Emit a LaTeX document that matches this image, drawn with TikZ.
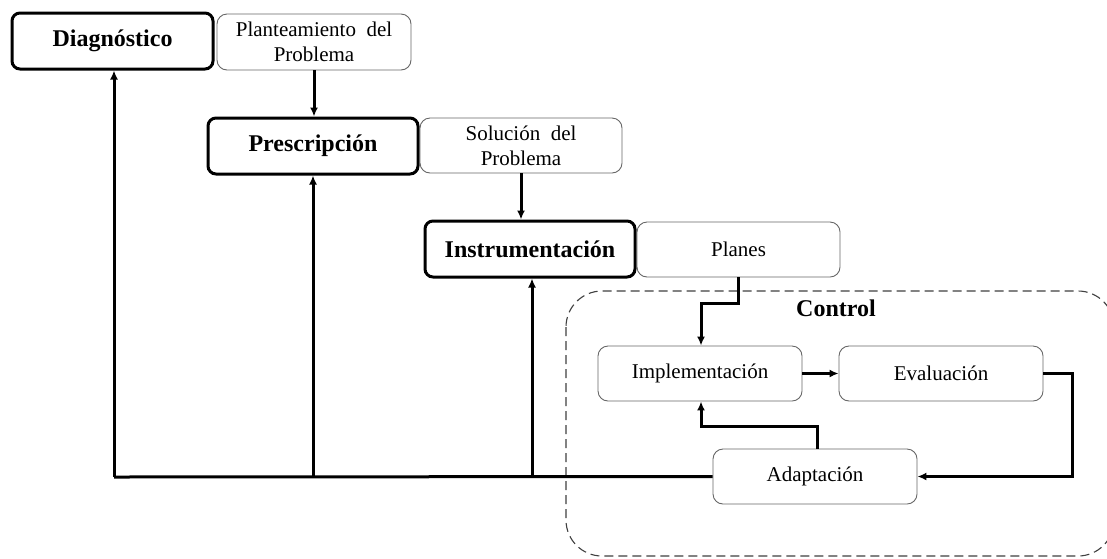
\documentclass[tikz,border=0pt]{standalone}
\usepackage{fontspec}
\setmainfont{Liberation Serif}
\usetikzlibrary{arrows.meta}
\begin{document}
\begin{tikzpicture}[x=1pt,y=-1pt,
  stage/.style={draw=black,line width=3pt,rounded corners=8pt,fill=white,
    inner sep=0pt,font=\fontsize{24}{26}\selectfont\bfseries},
  item/.style={draw=black!60,line width=0.9pt,rounded corners=10pt,fill=white,
    inner sep=0pt,align=center,font=\fontsize{21}{25}\selectfont},
  flow/.style={line width=3pt,-{Latex[length=9pt,width=8pt]}},
  link/.style={line width=3pt},
  region/.style={draw=black!75,line width=1.1pt,dash pattern=on 9pt off 5pt,rounded corners=36pt}]
\useasboundingbox (0,0) rectangle (1107,558);
\fill[white] (0,0) rectangle (1107,558);

% dashed control region
\draw[region] (566,291) rectangle (1114,556);
\node[font=\fontsize{24}{26}\selectfont\bfseries] (ctl) at (836,308) {Control};

% points where the feedback line meets each stage
\coordinate (base) at (114,477);
\coordinate (bp) at (313,477);
\coordinate (bi) at (532,477);

% stages and their outputs
\node[stage,minimum width=201pt,minimum height=56pt] (diag) at (112.5,41) {Diagnóstico};
\node[item,minimum width=194pt,minimum height=56pt] (plant) at (314,42) {Planteamiento\ \ del\\Problema};
\node[stage,minimum width=210pt,minimum height=56pt] (presc) at (313,146) {Prescripción};
\node[item,minimum width=202pt,minimum height=55pt] (sol) at (521,145.5) {Solución\ \ del\\Problema};
\node[stage,minimum width=210pt,minimum height=56pt] (instr) at (530,249) {Instrumentación};
\node[item,minimum width=203pt,minimum height=55pt] (plan) at (738.5,249.5) {Planes};

% control loop
\node[item,minimum width=204pt,minimum height=55pt] (impl) at (700,373.5) {Implementación};
\node[item,minimum width=204pt,minimum height=55pt] (eval) at (941,373.5) {Evaluación};
\node[item,minimum width=204pt,minimum height=55pt] (adap) at (815,476.5) {Adaptación};

\draw[flow] (plant.south) -- (plant.south |- presc.north);
\draw[flow] (sol.south) -- (sol.south |- instr.north);
\draw[flow] (plan.south) |- (701,303) -- (impl.north -| 701,0);
\draw[flow] (impl.east |- 0,373.5) -- (eval.west |- 0,373.5);
\draw[flow] (eval.east) -- (1072,373.5) |- (adap.east);
\draw[flow] (adap.north -| 817,0) |- (701,426) -- (impl.south -| 701,0);

% feedback to every stage
\draw[link] (adap.west) -- (base);
\draw[flow] (base) -- (diag.south -| base);
\draw[flow] (bp) -- (presc.south -| bp);
\draw[flow] (bi) -- (instr.south -| bi);
\end{tikzpicture}
\end{document}
